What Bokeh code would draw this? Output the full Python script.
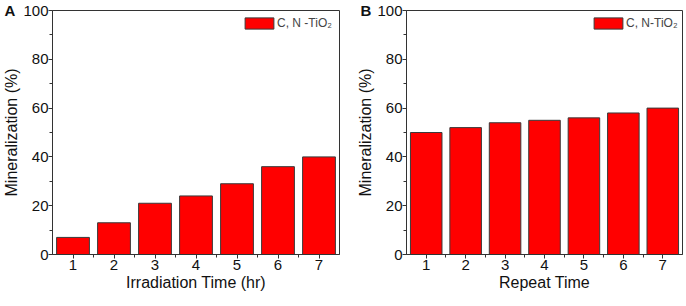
from bokeh.plotting import figure
from bokeh.layouts import row
from bokeh.models import Legend, LegendItem, FixedTicker, Range1d
from bokeh.embed import file_html
from bokeh.resources import INLINE

# ---- data ----
irradiation_time = [1, 2, 3, 4, 5, 6, 7]
mineral_a = [7, 13, 21, 24, 29, 36, 40]
repeat_time = [1, 2, 3, 4, 5, 6, 7]
mineral_b = [50, 52, 54, 55, 56, 58, 60]
y_ticks = [0, 20, 40, 60, 80, 100]
y_minor = [10, 30, 50, 70, 90]
x_ticks = [1, 2, 3, 4, 5, 6, 7]
x_minor = [1.5, 2.5, 3.5, 4.5, 5.5, 6.5]
legend_a = "C, N -TiO\u2082"
legend_b = "C, N-TiO\u2082"

FONT = "Liberation Sans"
AXC = "#333333"


def panel(x, y, xlabel, leg, letter, width, bl, br, letter_off, leg_x):
    p = figure(width=width, height=300, output_backend="svg", toolbar_location=None,
               x_range=Range1d(0.5, 7.5), y_range=Range1d(0, 100),
               min_border_left=bl, min_border_right=br, min_border_top=10,
               min_border_bottom=46)
    r = p.vbar(x=x, top=y, width=0.8, fill_color="#ff0000", line_color="#3a3a3a",
               line_width=1)
    p.xgrid.visible = False
    p.ygrid.visible = False
    p.outline_line_color = AXC
    p.outline_line_width = 1
    for ax in (p.xaxis[0], p.yaxis[0]):
        ax.axis_line_color = AXC
        ax.major_tick_line_color = AXC
        ax.minor_tick_line_color = AXC
        ax.major_tick_in = 0
        ax.major_tick_out = 4
        ax.minor_tick_in = 0
        ax.minor_tick_out = 3
        ax.major_label_text_font = FONT
        ax.major_label_text_font_size = "15px"
        ax.major_label_text_color = "#111111"
        ax.axis_label_text_font = FONT
        ax.axis_label_text_font_size = "16px"
        ax.axis_label_text_font_style = "normal"
        ax.axis_label_text_color = "#111111"
        ax.major_label_standoff = 1
        ax.axis_label_standoff = 1
    p.yaxis.major_label_standoff = 0
    p.yaxis.axis_label_standoff = 0
    p.xaxis.ticker = FixedTicker(ticks=x_ticks, minor_ticks=x_minor)
    p.yaxis.ticker = FixedTicker(ticks=y_ticks, minor_ticks=y_minor)
    p.xaxis.axis_label = xlabel
    p.yaxis.axis_label = "Mineralization (%)"
    lg = Legend(items=[LegendItem(label=leg, renderers=[r])], location=(leg_x, 224),
                border_line_alpha=0, background_fill_alpha=0, glyph_width=36,
                glyph_height=14, label_text_font=FONT, label_text_font_size="12px",
                label_standoff=0, padding=0, margin=0, spacing=0,
                label_height=12)
    p.add_layout(lg)
    # panel letter as the figure's title
    p.title.text = letter
    p.title.text_font = FONT
    p.title.text_font_style = "bold"
    p.title.text_font_size = "15px"
    p.title.text_color = "#111111"
    p.title.align = "left"
    p.title.vertical_align = "bottom"
    p.title.offset = letter_off
    try:
        p.title.standoff = -16
    except Exception:
        p.title.standoff = 0
    return p


pa = panel(irradiation_time, mineral_a, "Irradiation Time (hr)", legend_a, "A", 343, 51, 4, -48, 189)
pb = panel(repeat_time, mineral_b, "Repeat Time", legend_b, "B", 343, 63, 4, -46, 184)
layout = row(pa, pb)
open("out.html", "w").write(file_html(layout, INLINE))
